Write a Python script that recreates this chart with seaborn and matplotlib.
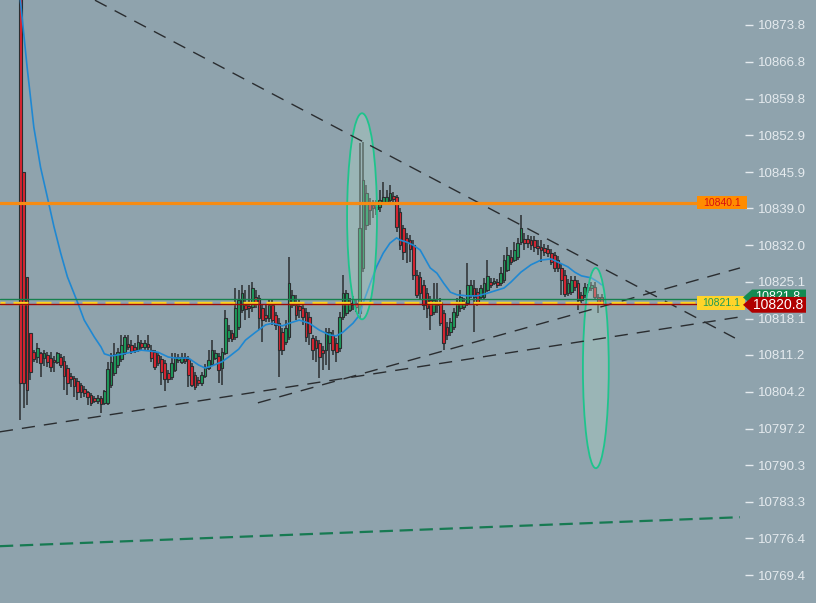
import numpy as np
import pandas as pd
import matplotlib
matplotlib.use("Agg")
import matplotlib.pyplot as plt
import seaborn as sns
from matplotlib.patches import Ellipse, Polygon, Rectangle

# ---------------- data ----------------
opens = [10882.0, 10845.9, 10826.0, 10815.3, 10811.7, 10810.8, 10811.6, 10810.6, 10811.2, 10810.6,
         10810.2, 10809.9, 10810.8, 10810.0, 10808.7, 10807.2, 10806.8, 10806.2, 10805.5, 10804.7,
         10804.2, 10803.6, 10803.0, 10802.4, 10803.0, 10802.1, 10802.1, 10805.5, 10807.8, 10809.3,
         10810.4, 10811.7, 10813.3, 10813.1, 10812.7, 10812.1, 10813.5, 10812.7, 10813.3, 10812.1,
         10811.7, 10811.2, 10810.4, 10809.7, 10807.8, 10807.0, 10808.3, 10810.2, 10809.9, 10810.8,
         10810.4, 10809.1, 10807.4, 10806.4, 10805.9, 10807.2, 10808.7, 10809.5, 10810.6, 10811.0,
         10808.7, 10811.6, 10814.4, 10815.3, 10814.6, 10816.5, 10819.7, 10820.7, 10820.5, 10820.3,
         10822.2, 10822.0, 10820.1, 10818.8, 10818.2, 10820.7, 10818.8, 10817.2, 10815.5, 10813.7,
         10814.6, 10820.7, 10820.7, 10820.5, 10820.1, 10819.3, 10818.4, 10814.4, 10814.0, 10813.5,
         10812.1, 10812.1, 10813.5, 10815.0, 10813.5, 10812.5, 10818.4, 10819.1, 10819.7, 10820.7,
         10821.1, 10819.1, 10827.7, 10835.8, 10840.2, 10839.6, 10839.3, 10839.3, 10840.2, 10840.2,
         10840.6, 10841.4, 10841.2, 10838.3, 10835.3, 10833.4, 10833.0, 10832.0, 10826.4, 10826.0,
         10824.5, 10822.9, 10821.6, 10819.3, 10820.7, 10821.2, 10819.1, 10816.5, 10815.5, 10816.5,
         10818.8, 10820.1, 10820.3, 10821.1, 10822.6, 10823.9, 10823.1, 10822.2, 10822.2, 10823.5,
         10825.0, 10824.8, 10825.0, 10824.8, 10825.4, 10827.3, 10829.8, 10829.2, 10829.8, 10832.6,
         10833.2, 10833.2, 10833.0, 10833.0, 10831.9, 10831.7, 10831.5, 10831.3, 10830.5, 10830.2,
         10829.2, 10827.7, 10826.4, 10822.9, 10823.1, 10825.4, 10824.8, 10822.6, 10822.6, 10823.5,
         10823.9, 10824.1, 10822.2, 10822.2]
highs = [10882.0, 10845.9, 10826.0, 10815.3, 10812.1, 10813.5, 10811.7, 10812.1, 10811.7, 10811.7,
         10811.0, 10811.7, 10811.4, 10811.0, 10809.3, 10807.8, 10807.2, 10806.8, 10805.9, 10805.3,
         10804.4, 10804.0, 10803.4, 10803.6, 10803.4, 10804.5, 10809.9, 10811.6, 10813.5, 10812.5,
         10815.0, 10815.0, 10815.0, 10814.0, 10813.5, 10815.0, 10814.0, 10814.0, 10815.0, 10813.1,
         10812.1, 10811.7, 10811.0, 10810.2, 10808.3, 10811.6, 10811.6, 10811.4, 10811.6, 10811.6,
         10811.0, 10809.7, 10808.0, 10807.0, 10808.0, 10809.5, 10812.1, 10814.0, 10812.1, 10811.6,
         10812.5, 10819.7, 10816.9, 10815.9, 10823.9, 10823.5, 10824.5, 10823.5, 10824.5, 10825.0,
         10823.5, 10822.6, 10820.7, 10820.7, 10821.6, 10821.6, 10819.3, 10818.2, 10816.3, 10817.8,
         10829.8, 10823.5, 10822.6, 10821.6, 10820.7, 10820.1, 10819.3, 10815.0, 10814.8, 10814.0,
         10812.9, 10816.3, 10816.3, 10815.9, 10814.4, 10819.3, 10826.4, 10823.5, 10822.0, 10822.4,
         10821.6, 10851.4, 10851.6, 10843.4, 10841.0, 10840.6, 10840.6, 10842.5, 10844.0, 10842.5,
         10843.4, 10842.1, 10841.5, 10839.1, 10835.8, 10834.3, 10833.9, 10833.0, 10827.3, 10826.9,
         10825.4, 10823.9, 10822.4, 10824.8, 10824.8, 10822.0, 10819.7, 10817.4, 10818.2, 10820.1,
         10822.0, 10823.5, 10822.0, 10828.6, 10825.4, 10825.4, 10823.9, 10824.5, 10825.8, 10829.2,
         10825.8, 10825.8, 10825.6, 10827.9, 10830.2, 10831.7, 10831.1, 10832.6, 10833.4, 10837.7,
         10834.3, 10833.9, 10833.8, 10833.8, 10833.0, 10833.0, 10832.2, 10832.0, 10831.3, 10830.7,
         10830.0, 10828.4, 10827.3, 10825.6, 10826.2, 10826.2, 10825.4, 10823.1, 10824.8, 10824.6,
         10825.0, 10825.0, 10822.7, 10822.7]
lows = [10798.8, 10801.1, 10801.7, 10806.4, 10809.9, 10809.7, 10807.0, 10809.1, 10808.9, 10808.0,
        10808.0, 10809.5, 10808.7, 10804.5, 10803.6, 10805.1, 10803.2, 10802.6, 10803.0, 10803.2,
        10801.7, 10801.5, 10802.1, 10801.9, 10800.2, 10801.7, 10801.7, 10804.9, 10807.2, 10808.7,
        10809.9, 10811.2, 10812.1, 10811.4, 10811.6, 10811.7, 10812.1, 10812.1, 10812.1, 10809.9,
        10808.3, 10809.1, 10805.5, 10804.4, 10805.9, 10806.4, 10808.0, 10809.7, 10809.5, 10809.5,
        10805.1, 10805.1, 10804.5, 10805.3, 10805.3, 10806.8, 10808.3, 10809.1, 10810.2, 10805.9,
        10805.5, 10811.2, 10813.7, 10813.7, 10814.0, 10815.9, 10819.1, 10817.8, 10818.2, 10819.3,
        10820.1, 10815.9, 10813.7, 10817.4, 10817.4, 10816.9, 10815.9, 10807.0, 10811.2, 10813.1,
        10814.0, 10820.1, 10817.8, 10818.2, 10816.9, 10813.7, 10813.1, 10810.2, 10809.9, 10806.8,
        10808.3, 10809.3, 10808.3, 10811.2, 10809.9, 10811.7, 10817.8, 10818.6, 10819.3, 10819.7,
        10819.3, 10818.2, 10826.9, 10834.9, 10835.8, 10837.2, 10837.7, 10838.3, 10839.6, 10839.6,
        10840.0, 10839.6, 10834.5, 10831.1, 10829.2, 10828.6, 10828.8, 10825.4, 10822.0, 10821.6,
        10819.7, 10818.2, 10815.9, 10818.8, 10819.1, 10816.7, 10812.1, 10814.0, 10814.8, 10815.9,
        10818.2, 10819.3, 10819.7, 10820.5, 10822.0, 10815.5, 10820.5, 10821.6, 10821.6, 10823.1,
        10823.9, 10824.5, 10823.9, 10824.3, 10824.8, 10826.9, 10828.3, 10828.8, 10829.2, 10832.0,
        10831.1, 10831.5, 10831.1, 10830.7, 10830.2, 10828.8, 10830.0, 10829.8, 10828.3, 10826.9,
        10826.9, 10822.6, 10822.2, 10822.4, 10822.6, 10823.3, 10819.7, 10821.1, 10822.0, 10822.9,
        10823.3, 10821.6, 10819.1, 10820.7]
closes = [10805.9, 10805.9, 10804.5, 10808.0, 10810.4, 10812.5, 10809.7, 10811.6, 10809.9, 10808.9,
          10809.9, 10811.6, 10809.3, 10807.2, 10805.9, 10806.6, 10805.3, 10804.2, 10804.2, 10804.0,
          10803.2, 10802.1, 10802.4, 10803.0, 10801.9, 10804.4, 10808.5, 10809.9, 10811.4, 10811.7,
          10813.1, 10814.6, 10812.7, 10811.9, 10812.1, 10813.7, 10812.7, 10813.5, 10812.7, 10810.6,
          10808.9, 10809.7, 10808.0, 10806.6, 10806.6, 10809.7, 10810.8, 10810.8, 10810.8, 10810.0,
          10807.4, 10805.5, 10805.1, 10805.9, 10807.4, 10808.9, 10810.2, 10812.1, 10811.6, 10808.3,
          10811.7, 10818.2, 10815.9, 10814.2, 10820.1, 10821.6, 10822.9, 10819.9, 10820.1, 10823.9,
          10821.2, 10818.2, 10817.8, 10818.2, 10820.7, 10817.8, 10816.9, 10812.1, 10812.1, 10816.3,
          10824.8, 10822.6, 10818.8, 10819.7, 10818.4, 10814.6, 10815.3, 10812.1, 10812.5, 10810.8,
          10811.6, 10815.5, 10815.5, 10812.1, 10811.7, 10818.4, 10822.9, 10822.9, 10821.1, 10821.6,
          10820.3, 10835.3, 10844.4, 10841.9, 10838.7, 10839.1, 10838.9, 10840.6, 10841.2, 10841.2,
          10841.9, 10840.8, 10835.5, 10832.0, 10830.7, 10832.6, 10831.3, 10826.4, 10822.6, 10822.9,
          10820.7, 10820.1, 10818.8, 10821.6, 10821.2, 10817.2, 10813.5, 10815.0, 10817.4, 10819.3,
          10821.2, 10822.2, 10821.2, 10824.5, 10824.5, 10822.2, 10821.2, 10823.9, 10824.8, 10826.2,
          10824.5, 10825.2, 10824.5, 10826.7, 10829.2, 10830.2, 10828.8, 10831.1, 10832.4, 10835.3,
          10832.4, 10832.4, 10832.0, 10831.7, 10831.5, 10831.1, 10830.7, 10830.5, 10828.8, 10827.7,
          10827.7, 10825.4, 10822.7, 10824.8, 10825.4, 10824.1, 10821.6, 10821.6, 10824.1, 10824.1,
          10824.5, 10822.2, 10821.2, 10820.8]

# moving average (candle index, value)
ma_idx = [0, 2, 4, 6, 8, 10, 12, 14, 17, 19, 22, 24, 25, 27, 29, 33, 36, 39, 41, 44,
          46, 50, 53, 55, 57, 60, 62, 65, 67, 70, 73, 75, 78, 80, 83, 86, 89, 92, 94, 96,
          99, 101, 102, 104, 106, 108, 110, 112, 113, 115, 117, 119, 122, 124, 126, 128, 130, 133, 136, 139,
          142, 144, 146, 149, 152, 155, 158, 160, 163, 165, 167, 170, 172, 173]
ma_val = [10878.5, 10865.8, 10854.4, 10846.8, 10841.2, 10835.5, 10830.5, 10826.0, 10821.2, 10817.8,
          10814.6, 10812.7, 10811.4, 10811.0, 10811.2, 10811.7, 10812.1, 10811.9, 10811.7, 10810.8,
          10810.6, 10810.6, 10809.3, 10808.7, 10809.1, 10809.9, 10810.8, 10812.3, 10814.0, 10815.5,
          10816.9, 10817.2, 10816.7, 10817.2, 10817.8, 10817.2, 10815.9, 10815.0, 10814.8, 10815.5,
          10817.2, 10818.8, 10821.0, 10824.5, 10827.9, 10830.5, 10832.4, 10833.4, 10833.0, 10832.6,
          10832.0, 10831.1, 10827.7, 10826.7, 10824.8, 10823.1, 10822.6, 10822.4, 10822.4, 10822.9,
          10823.5, 10823.9, 10825.0, 10826.9, 10828.3, 10829.2, 10829.4, 10828.8, 10827.9, 10826.9,
          10826.2, 10825.8, 10825.0, 10824.5]

tick_values = [10873.8, 10866.8, 10859.8, 10852.9, 10845.9, 10839.0, 10832.0, 10825.1,
               10818.1, 10811.2, 10804.2, 10797.2, 10790.3, 10783.3, 10776.4, 10769.4]
tick_labels = ["10873.8", "10866.8", "10859.8", "10852.9", "10845.9", "10839.0", "10832.0", "10825.1",
               "10818.1", "10811.2", "10804.2", "10797.2", "10790.3", "10783.3", "10776.4", "10769.4"]

level_orange = 10840.1
level_yellow = 10821.1
level_ask = 10821.8
level_bid = 10820.8

# trend lines: (x indices, prices)
trend_down_x = [22.2, 212.7]
trend_down_y = [10878.5, 10814.4]
trend_low_x = [-6.1, 214.2]
trend_low_y = [10796.6, 10818.4]
trend_mid_x = [70.7, 214.2]
trend_mid_y = [10802.1, 10827.7]
trend_green_x = [-6.1, 214.2]
trend_green_y = [10774.9, 10780.4]

# ellipses: (center index, center price, width in candles, height in price)
ellipses = [(101.7, 10837.5, 8.9, 39.1), (171.3, 10808.7, 7.7, 38.0)]

# ---------------- styling ----------------
BG = "#8fa3ad"
GREEN = "#1e9c5c"
RED = "#dc2430"
OUTL = "#2b2e30"
LIGHT = "#e4eaee"

sns.set_style("white")
plt.rcParams["font.family"] = ["Liberation Sans", "DejaVu Sans"]

fig = plt.figure(figsize=(8.16, 6.03), dpi=100, facecolor=BG)
AXW = 745 / 816
ax = fig.add_axes([0, 0, AXW, 1])
ax.set_facecolor(BG)

df = pd.DataFrame({"i": np.arange(len(opens)), "o": opens, "h": highs, "l": lows, "c": closes})
up = df["c"] >= df["o"]
bottom = np.minimum(df["o"], df["c"])
height = np.maximum((df["c"] - df["o"]).abs(), 0.3)

ax.vlines(df["i"], df["l"], df["h"], color=OUTL, lw=1.1, zorder=2)
ax.bar(df["i"], height, bottom=bottom, width=0.8,
       color=np.where(up, GREEN, RED), edgecolor=OUTL, linewidth=0.8, zorder=3)

# moving average
sns.lineplot(x=ma_idx, y=ma_val, ax=ax, color="#1f88d2", lw=1.2, zorder=4)

# ellipses
for cx, cy, w, h in ellipses:
    ax.add_patch(Ellipse((cx, cy), w, h, facecolor=(0.69, 0.85, 0.78, 0.35),
                         edgecolor="#1ec48c", lw=1.3, zorder=5))

# trend lines
for xs, ys in [(trend_down_x, trend_down_y), (trend_low_x, trend_low_y), (trend_mid_x, trend_mid_y)]:
    ax.plot(xs, ys, color="#2a2d30", lw=1.0, ls=(0, (9.5, 6.5)), zorder=6)
ax.plot(trend_green_x, trend_green_y, color="#177a52", lw=1.6, ls=(0, (6, 3)), zorder=6)

# horizontal levels
ax.axhline(level_orange, color="#f68b12", lw=2.3, zorder=6)
ax.axhline(level_ask, color="#17804e", lw=1.0, zorder=6)
ax.axhline(level_yellow, color="#ffd21f", lw=2.4, ls=(3, (4.5, 2.4)), zorder=6)
ax.axhline(level_bid, color="#9a0a0a", lw=1.0, zorder=7)

ax.set_xlim(-6.07, 215.7)
ax.set_ylim(10764.12, 10878.54)

# right price axis
ax.yaxis.tick_right()
ax.set_yticks(tick_values)
ax.set_yticklabels(tick_labels)
ax.tick_params(axis="y", colors=LIGHT, length=6, width=1.0, pad=3, labelsize=9.5, direction="out")
ax.tick_params(axis="x", bottom=False, labelbottom=False)
for s in ax.spines.values():
    s.set_visible(False)

ytr = ax.get_yaxis_transform()
px = lambda p: p / 745.0

# orange label box
ax.add_patch(Rectangle((px(697), level_orange - 1.25), px(50), 2.5, transform=ytr,
                       facecolor="#ff8c00", edgecolor="none", clip_on=False, zorder=8))
ax.text(px(722), level_orange, "10840.1", transform=ytr, ha="center", va="center",
        color="#d81010", fontsize=7.5, clip_on=False, zorder=9)

# yellow label box
ax.add_patch(Rectangle((px(697), level_yellow - 1.3), px(48), 2.6, transform=ytr,
                       facecolor="#ffd42a", edgecolor="none", clip_on=False, zorder=8))
ax.text(px(721), level_yellow, "10821.1", transform=ytr, ha="center", va="center",
        color="#1e9a55", fontsize=7.5, clip_on=False, zorder=9)

# ask (green) and bid (red) tags; the red one covers most of the green one, as in the source
def tag(level, color, text, z, fs):
    hh = 1.5
    pts = [(px(743), level), (px(752), level + hh), (px(806), level + hh),
           (px(806), level - hh), (px(752), level - hh)]
    ax.add_patch(Polygon(pts, closed=True, transform=ytr, facecolor=color,
                         edgecolor="none", clip_on=False, zorder=z))
    ax.text(px(778), level, text, transform=ytr, ha="center", va="center",
            color="white", fontsize=fs, clip_on=False, zorder=z + 0.5)

tag(level_ask + 0.3, "#138a52", "10821.8", 10, 9)
tag(level_bid - 0.1, "#b00000", "10820.8", 11, 10)

fig.savefig("out.png", dpi=100, facecolor=BG)
